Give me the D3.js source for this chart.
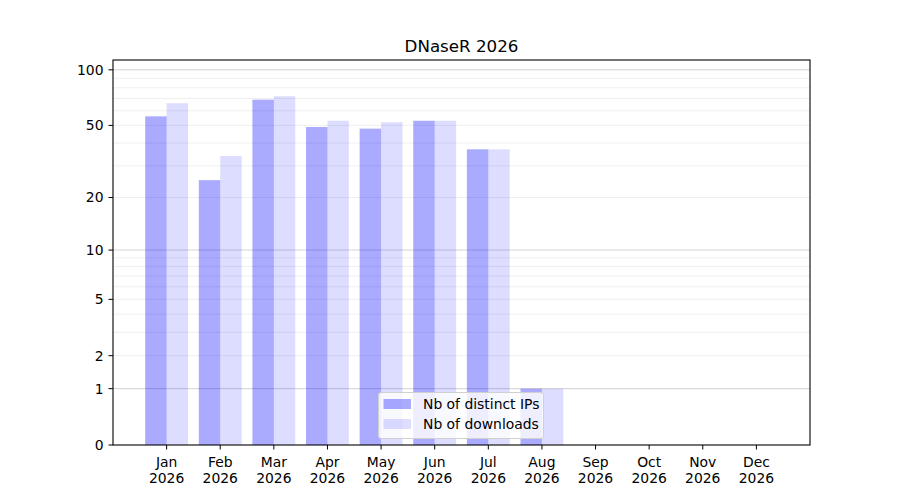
<!DOCTYPE html>
<html>
<head>
<meta charset="utf-8">
<script src="https://cdn.jsdelivr.net/npm/d3@7"></script>
<style>
    body { margin: 0; background: #fff; }
    text { font-family: "DejaVu Sans", sans-serif; }
</style>
</head>
<body>
<svg id="chart" width="900" height="500"></svg>
<script>
// Monthly values.
var months = ["Jan", "Feb", "Mar", "Apr", "May", "Jun", "Jul", "Aug", "Sep", "Oct", "Nov", "Dec"];
var year = "2026";
var distinctIPs = [56, 25, 69, 49, 48, 53, 37, 1, 0, 0, 0, 0];
var downloads = [66, 34, 72, 53, 52, 53, 37, 1, 0, 0, 0, 0];
var yTickValues = [0, 1, 2, 5, 10, 20, 50, 100];
var majorGrid = [1, 10, 100];
var minorGrid = [2, 3, 4, 5, 6, 7, 8, 9, 20, 30, 40, 50, 60, 70, 80, 90];
var seriesNames = ["Nb of distinct IPs", "Nb of downloads"];

var svg = d3.select("#chart");
// Note: "top" is taken by window.top, so use plot* names.
var plotLeft = 113, plotRight = 810, plotTop = 60, plotBottom = 445;
var fontSize = "13.9px";

// Linear scale on month index, 0..13 across the axes.
var x = d3.scaleLinear().domain([0, 13]).range([plotLeft, plotRight]);
// Log(1 + value) scale, as in the reference.
var yLog = d3.scaleLinear().domain([0, Math.log10(114)]).range([plotBottom, plotTop]);
function y(v) {
    return yLog(Math.log10(1 + v));
}
var barWidth = 0.4;

// Grid lines drawn under the translucent bars.
svg.append("g")
    .selectAll("line")
    .data(minorGrid)
    .enter()
    .append("line")
    .attr("x1", plotLeft).attr("x2", plotRight)
    .attr("y1", function (d) { return y(d); })
    .attr("y2", function (d) { return y(d); })
    .attr("stroke", "#ebebeb")
    .attr("stroke-width", 0.8);
svg.append("g")
    .selectAll("line")
    .data(majorGrid)
    .enter()
    .append("line")
    .attr("x1", plotLeft).attr("x2", plotRight)
    .attr("y1", function (d) { return y(d); })
    .attr("y2", function (d) { return y(d); })
    .attr("stroke", "#c8c8c8")
    .attr("stroke-width", 0.8);

// Bars: distinct IPs left of the tick, downloads right of it.
svg.append("g")
    .selectAll("rect")
    .data(distinctIPs)
    .enter()
    .append("rect")
    .attr("x", function (d, i) { return x(i + 1 - barWidth); })
    .attr("width", x(barWidth) - x(0))
    .attr("y", function (d) { return y(d); })
    .attr("height", function (d) { return y(0) - y(d); })
    .attr("fill", "#0000ff")
    .attr("fill-opacity", 0.333);
svg.append("g")
    .selectAll("rect")
    .data(downloads)
    .enter()
    .append("rect")
    .attr("x", function (d, i) { return x(i + 1); })
    .attr("width", x(barWidth) - x(0))
    .attr("y", function (d) { return y(d); })
    .attr("height", function (d) { return y(0) - y(d); })
    .attr("fill", "#0000ff")
    .attr("fill-opacity", 0.133);

// Axes frame.
svg.append("rect")
    .attr("x", plotLeft).attr("y", plotTop)
    .attr("width", plotRight - plotLeft).attr("height", plotBottom - plotTop)
    .attr("fill", "none")
    .attr("stroke", "#000")
    .attr("stroke-width", 1.1);

// Y axis.
var yAxis = svg.append("g");
yAxis.selectAll("line")
    .data(yTickValues)
    .enter()
    .append("line")
    .attr("x1", plotLeft - 4.5).attr("x2", plotLeft)
    .attr("y1", function (d) { return y(d); })
    .attr("y2", function (d) { return y(d); })
    .attr("stroke", "#000");
yAxis.selectAll("text")
    .data(yTickValues)
    .enter()
    .append("text")
    .attr("x", plotLeft - 9.5)
    .attr("y", function (d) { return y(d); })
    .attr("dy", "0.35em")
    .attr("text-anchor", "end")
    .attr("font-size", fontSize)
    .text(function (d) { return d; });

// X axis.
var xAxis = svg.append("g");
xAxis.selectAll("line")
    .data(months)
    .enter()
    .append("line")
    .attr("x1", function (d, i) { return x(i + 1); })
    .attr("x2", function (d, i) { return x(i + 1); })
    .attr("y1", plotBottom).attr("y2", plotBottom + 4.5)
    .attr("stroke", "#000");
var xLabels = xAxis.selectAll("text")
    .data(months)
    .enter()
    .append("text")
    .attr("x", function (d, i) { return x(i + 1); })
    .attr("y", plotBottom + 22)
    .attr("text-anchor", "middle")
    .attr("font-size", fontSize);
xLabels.append("tspan")
    .attr("x", function (d, i) { return x(i + 1); })
    .text(function (d) { return d; });
xLabels.append("tspan")
    .attr("x", function (d, i) { return x(i + 1); })
    .attr("dy", 15.5)
    .text(year);

// Title.
svg.append("text")
    .attr("x", (plotLeft + plotRight) / 2)
    .attr("y", plotTop - 8)
    .attr("text-anchor", "middle")
    .attr("font-size", "16.7px")
    .text("DNaseR 2026");

// Legend.
var legend = svg.append("g").attr("transform", "translate(378.5,392.5)");
legend.append("rect")
    .attr("width", 165).attr("height", 46)
    .attr("rx", 2.5)
    .attr("fill", "#fff")
    .attr("fill-opacity", 0.8)
    .attr("stroke", "#d0d0d0");
var opacities = [0.333, 0.133];
seriesNames.forEach(function (name, i) {
    legend.append("rect")
        .attr("x", 5).attr("y", 6.5 + i * 20)
        .attr("width", 27.5).attr("height", 10)
        .attr("fill", "#0000ff")
        .attr("fill-opacity", opacities[i]);
    legend.append("text")
        .attr("x", 44.5).attr("y", 11.5 + i * 20)
        .attr("dy", "0.35em")
        .attr("font-size", fontSize)
        .text(name);
});
</script>
</body>
</html>
